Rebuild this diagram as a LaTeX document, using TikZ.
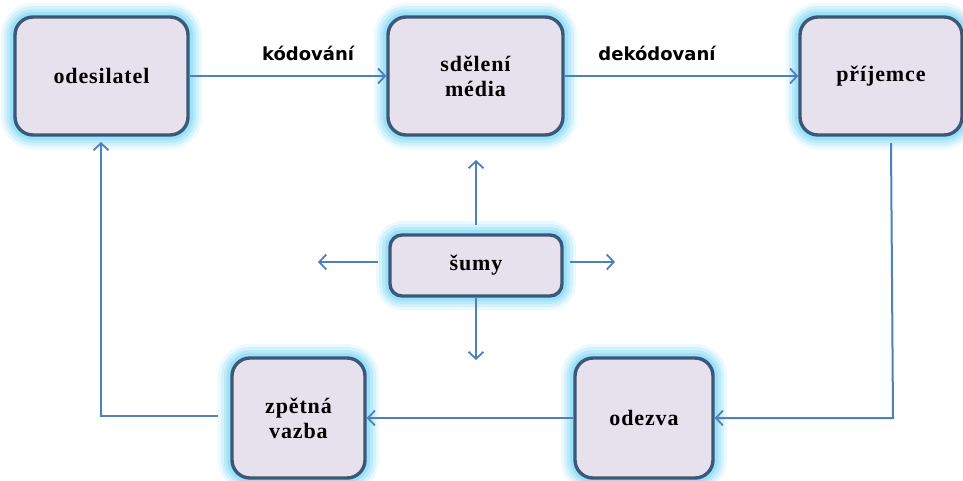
\documentclass[tikz,border=0pt]{standalone}
\usepackage{fontspec}
\setmainfont{Liberation Serif}
\newfontfamily\boxfont[LetterSpace=4]{Liberation Serif}
\newfontfamily\labfont{DejaVu Sans}
\usetikzlibrary{arrows.meta}
\definecolor{boxfill}{HTML}{E6E1EC}
\definecolor{boxline}{HTML}{3A5978}
\definecolor{glow}{HTML}{7FD8F5}
\definecolor{conn}{HTML}{4F7FBD}
\tikzset{
  glowbox/.style={rounded corners=#1, draw=boxline, line width=3.4pt, fill=boxfill,
    align=center, inner sep=0pt,
    font=\boxfont\bfseries\fontsize{22}{25}\selectfont,
    preaction={draw=glow, line width=28pt, draw opacity=0.15},
    preaction={draw=glow, line width=22pt, draw opacity=0.22},
    preaction={draw=glow, line width=16pt, draw opacity=0.32},
    preaction={draw=glow, line width=10pt, draw opacity=0.5}},
  glowbox/.default=18pt,
  conline/.style={draw=conn, line width=2pt},
  conarrow/.style={conline, -{Straight Barb[length=7pt,width=15pt,line width=1.8pt]}},
  lab/.style={font=\labfont\bfseries\fontsize{18}{21}\selectfont, text=black, inner sep=0pt}
}
\begin{document}
\begin{tikzpicture}[x=1pt,y=-1pt]
\useasboundingbox (0,0) rectangle (963,480);
% boxes
\node[glowbox, minimum width=173pt, minimum height=118pt] (ode) at (101.5,76) {odesilatel};
\node[glowbox, minimum width=175pt, minimum height=118pt] (sde) at (475.5,76) {sdělení\\média};
\node[glowbox, minimum width=162pt, minimum height=118pt] (pri) at (881,76) {příjemce};
\node[glowbox=12pt, minimum width=172pt, minimum height=61pt] (sum) at (476,265.5) {šumy};
\node[glowbox, minimum width=133pt, minimum height=120pt] (zpe) at (298.5,418) {zpětná\\vazba};
\node[glowbox, minimum width=138pt, minimum height=120pt] (odz) at (644,418) {odezva};
% labels
\node[lab] (lk) at (308,53) {kódování};
\node[lab] (ld) at (657,53) {dekódovaní};
% coordinates
\coordinate (pstart) at (891,143);
\coordinate (pcorner) at (893,418);
\coordinate (zstart) at (218,416);
\coordinate (zcorner) at (101,416);
\coordinate (zend) at (101,142);
\coordinate (sup1) at (476,225);
\coordinate (sup2) at (476,160);
\coordinate (sdn1) at (476,298);
\coordinate (sdn2) at (476,360);
\coordinate (sl1) at (378,262);
\coordinate (sl2) at (318,262);
\coordinate (sr1) at (570,262);
\coordinate (sr2) at (615,262);
% connectors
\draw[conarrow] (ode.east) -- (sde.west);
\draw[conarrow] (sde.east) -- (pri.west);
\draw[conarrow] (pstart) -- (pcorner) -- (odz.east);
\draw[conarrow] (odz.west) -- (zpe.east);
\draw[conarrow] (zstart) -- (zcorner) -- (zend);
\draw[conarrow] (sup1) -- (sup2);
\draw[conarrow] (sdn1) -- (sdn2);
\draw[conarrow] (sl1) -- (sl2);
\draw[conarrow] (sr1) -- (sr2);
\end{tikzpicture}
\end{document}
